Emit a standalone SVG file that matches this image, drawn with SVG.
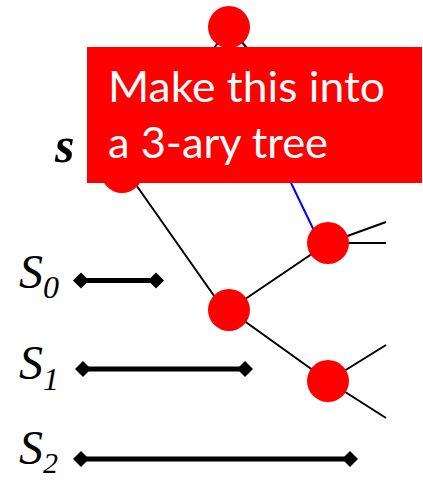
<svg xmlns="http://www.w3.org/2000/svg" width="423" height="481" viewBox="0 0 423 481">
<defs>
<style>
.node{fill:#ff0000}
.edge{stroke:#000;stroke-width:2;fill:none}
.blue{stroke:#0000ff;stroke-width:2;fill:none}
.bar{stroke:#000;stroke-width:5;fill:none}
.dia{fill:#000}
.lab{font-family:"Liberation Serif","Times New Roman",serif;font-style:italic;fill:#000}
.box-text{font-family:Lato,"Open Sans",sans-serif;font-size:42px;fill:#fff}
</style>
</defs>
<rect width="423" height="481" fill="#fff"/>
<g id="connectors">
<line class="edge" x1="229" y1="27" x2="127" y2="172"/>
<line class="edge" x1="229" y1="27" x2="300" y2="110"/>
<line class="edge" x1="127" y1="172" x2="224" y2="310"/>
<line class="blue" x1="280" y1="160" x2="320" y2="243"/>
<line class="edge" x1="229" y1="310" x2="328" y2="243"/>
<line class="edge" x1="229" y1="310" x2="328" y2="381"/>
<line class="edge" x1="328" y1="243" x2="386" y2="222"/>
<line class="edge" x1="328" y1="243" x2="386" y2="243"/>
<line class="edge" x1="328" y1="381" x2="386" y2="345"/>
<line class="edge" x1="328" y1="381" x2="386" y2="418"/>
</g>
<g id="root"><circle class="node" cx="229" cy="27" r="21"/></g>
<g id="node-s"><circle class="node" cx="122" cy="172" r="21"/></g>
<g id="node-mid"><circle class="node" cx="229" cy="310" r="21"/></g>
<g id="node-ru"><circle class="node" cx="328" cy="243" r="21"/></g>
<g id="node-rl"><circle class="node" cx="328" cy="381" r="21"/></g>
<g id="label-s"><text class="lab" x="55" y="162" font-size="50" font-weight="bold">s</text></g>
<g id="S0">
<text class="lab" x="19" y="288" font-size="48">S<tspan font-size="32" dy="10">0</tspan></text>
<line class="bar" x1="80" y1="280.5" x2="157" y2="280.5"/>
<polygon class="dia" points="73,280.5 81,272.5 89,280.5 81,288.5"/>
<polygon class="dia" points="164,280.5 156,272.5 148,280.5 156,288.5"/>
</g>
<g id="S1">
<text class="lab" x="19" y="379" font-size="48">S<tspan font-size="32" dy="11">1</tspan></text>
<line class="bar" x1="82" y1="369" x2="246" y2="369"/>
<polygon class="dia" points="75,369 83,361 91,369 83,377"/>
<polygon class="dia" points="253,369 245,361 237,369 245,377"/>
</g>
<g id="S2">
<text class="lab" x="19" y="464" font-size="48">S<tspan font-size="30" dy="9">2</tspan></text>
<line class="bar" x1="80" y1="459" x2="351" y2="459"/>
<polygon class="dia" points="73,459 81,451 89,459 81,467"/>
<polygon class="dia" points="358,459 350,451 342,459 350,467"/>
</g>
<g id="callout">
<rect x="87" y="47" width="335" height="136" fill="#ff0000"/>
<text class="box-text" x="108" y="102" textLength="277" lengthAdjust="spacingAndGlyphs">Make this into</text>
<text class="box-text" x="108" y="158" textLength="220" lengthAdjust="spacingAndGlyphs">a 3-ary tree</text>
</g>
</svg>
